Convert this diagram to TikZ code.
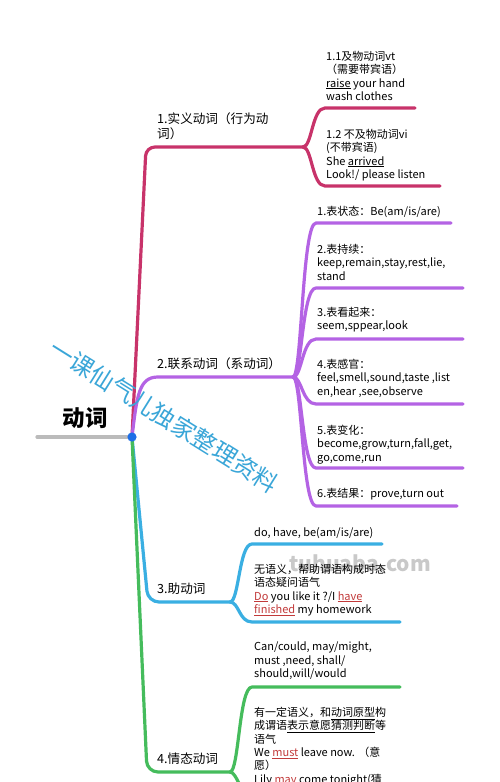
\documentclass[tikz,border=0pt]{standalone}
\usepackage{fontspec}
\setmainfont{Noto Sans CJK SC}
\definecolor{cred}{HTML}{C8336A}
\definecolor{cpur}{HTML}{B463E4}
\definecolor{cblu}{HTML}{3AAFE2}
\definecolor{cgrn}{HTML}{45BC5C}
\definecolor{cgry}{HTML}{BBBBBB}
\definecolor{cdot}{HTML}{1E6EE6}
\definecolor{cwm}{HTML}{3AA6D8}
\definecolor{ctxtred}{HTML}{C23A3A}
\newcommand{\ru}[1]{\textcolor{ctxtred}{\underline{#1}}}
\begin{document}
\begin{tikzpicture}[x=1pt,y=-1pt,
  br/.style={line width=3.2pt, line cap=round, line join=round},
  txt/.style={anchor=north west, inner sep=0pt, align=left, font=\fontsize{11}{13.3}\selectfont},
  lbl/.style={anchor=north west, inner sep=0pt, align=left, font=\fontsize{12.6}{15}\selectfont}]
\useasboundingbox (0,0) rectangle (500,782);
\fill[white] (0,0) rectangle (500,782);

% faint watermark
\node[text=black!21, font=\fontsize{21}{24}\selectfont\bfseries] (wm2) at (360,563) {tuhuaba.com};

% root
\coordinate (c) at (132,437);
\coordinate (g0) at (37,437);
\node[font=\fontsize{22.5}{26}\selectfont\bfseries, inner sep=0pt] (root) at (85,418) {动词};
\draw[br, cgry] (g0) -- (c);

% ---------- red branch ----------
\coordinate (rk) at (146,147);
\coordinate (r0) at (303,147);
\coordinate (ra) at (325,108); \coordinate (rae) at (415,108);
\coordinate (rb) at (325,186); \coordinate (rbe) at (440,186);
\draw[br, cred, rounded corners=9pt] (c) -- (rk) -- (r0);
\draw[br, cred] (r0) .. controls +(9,0) and +(-13,0) .. (ra) -- (rae);
\draw[br, cred] (r0) .. controls +(9,0) and +(-13,0) .. (rb) -- (rbe);
\node[lbl] (L1) at (157,113) {1.实义动词（行为动\\词）};
\node[txt] (t11) at (326,51) {1.1及物动词vt\\（需要带宾语）\\\underline{raise} your hand\\wash clothes};
\node[txt] (t12) at (326,129) {1.2 不及物动词vi\\(不带宾语)\\She \underline{arrived}\\Look!/ please listen};

% ---------- purple branch ----------
\coordinate (p0) at (293,377);
\draw[br, cpur] (c) .. controls (137,395) and (139,377) .. (158,377) -- (p0);
\foreach \y/\xe [count=\i] in {223/451, 288/463, 339/463, 404/463, 468/463, 506/457}{
  \coordinate (pa\i) at (316,\y);
  \coordinate (pe\i) at (\xe,\y);
  \draw[br, cpur] (p0) .. controls +(9,0) and +(-14,0) .. (pa\i) -- (pe\i);
}
\node[lbl] (L2) at (157,358) {2.联系动词（系动词）};
\node[txt] (p1) at (317,206) {1.表状态：Be(am/is/are)};
\node[txt] (p2) at (317,244) {2.表持续：\\keep,remain,stay,rest,lie,\\stand};
\node[txt] (p3) at (317,307) {3.表看起来：\\seem,sppear,look};
\node[txt] (p4) at (317,359) {4.表感官：\\feel,smell,sound,taste ,list\\en,hear ,see,observe};
\node[txt] (p5) at (317,425) {5.表变化：\\become,grow,turn,fall,get,\\go,come,run};
\node[txt] (p6) at (317,488) {6.表结果：prove,turn out};

% ---------- blue branch ----------
\coordinate (bk) at (148,602);
\coordinate (b0) at (230,602);
\coordinate (ba) at (252,544); \coordinate (bae) at (382,544);
\coordinate (bb) at (252,622); \coordinate (bbe) at (400,622);
\draw[br, cblu, rounded corners=11pt] (c) -- (bk) -- (b0);
\draw[br, cblu] (b0) .. controls +(9,0) and +(-13,0) .. (ba) -- (bae);
\draw[br, cblu] (b0) .. controls +(9,0) and +(-13,0) .. (bb) -- (bbe);
\node[lbl] (L3) at (157,583) {3.助动词};
\node[txt] (b1) at (254,527) {do, have, be(am/is/are)};
\node[txt] (b2) at (254,564) {无语义，帮助谓语构成时态\\语态疑问语气\\\ru{Do} you like it ?/I \ru{have}\\\ru{finished} my homework};

% ---------- green branch ----------
\coordinate (gk) at (147,772);
\coordinate (gr0) at (230,772);
\coordinate (ga) at (252,687); \coordinate (gae) at (400,687);
\coordinate (gb) at (246,800);
\draw[br, cgrn, rounded corners=11pt] (c) -- (gk) -- (gr0);
\draw[br, cgrn] (gr0) .. controls +(9,0) and +(-13,0) .. (ga) -- (gae);
\draw[br, cgrn] (gr0) .. controls +(6,0) and +(-4,-8) .. (gb);
\node[lbl] (L4) at (157,753) {4.情态动词};
\node[txt] (g1) at (254,642) {Can/could, may/might,\\must ,need, shall/\\should,will/would};
\node[txt] (g2) at (254,707) {有一定语义，和\underline{动词原型}构\\成谓语\underline{表示意愿猜测判断}等\\语气\\We \ru{must} leave now. （意\\愿）\\Lily \ru{may} come tonight(猜};

% root dot
\fill[cdot] (c) circle (4.6pt);

% blue watermark text
\node[text=cwm, rotate=-32, font=\fontsize{24}{28}\selectfont, inner sep=0pt] (wm1) at (164,416) {一课仙气儿独家整理资料};
\end{tikzpicture}
\end{document}
